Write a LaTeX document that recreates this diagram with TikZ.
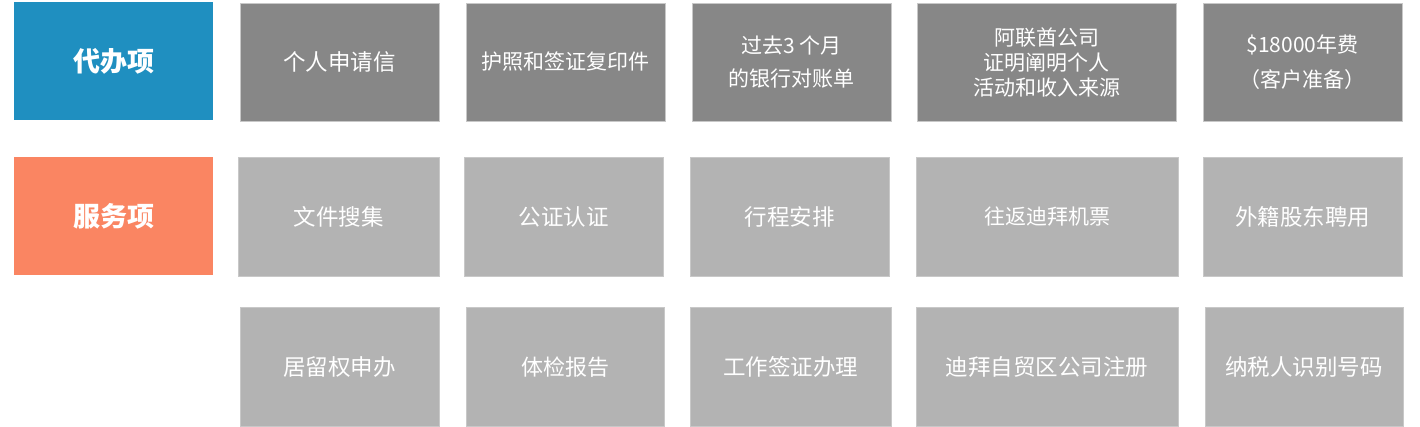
\documentclass[tikz,border=0pt]{standalone}
\usepackage{fontspec}
\setmainfont{Noto Sans CJK SC}
\definecolor{cblue}{HTML}{1F8FC0}
\definecolor{corange}{HTML}{FA8562}
\definecolor{cdark}{HTML}{878787}
\definecolor{clight}{HTML}{B3B3B3}
\definecolor{cedge}{HTML}{C8C8C8}
\tikzset{
  boxbase/.style={rectangle, inner sep=0pt, align=center, text=white, draw=cedge, line width=0.6pt},
  headbox/.style={boxbase, font=\fontsize{27}{32}\selectfont\bfseries, minimum width=199pt, minimum height=118pt, draw=none},
  darkbox/.style={boxbase, fill=cdark, font=\fontsize{22.5}{27}\selectfont, minimum height=118pt},
  lightbox/.style={boxbase, fill=clight, font=\fontsize{22.5}{27}\selectfont, minimum height=119pt},
  smallfont/.style={font=\fontsize{21}{25}\selectfont},
}
\begin{document}
\begin{tikzpicture}[x=1pt,y=-1pt]
\useasboundingbox[fill=white] (0,0) rectangle (1420,427);
% row 1
\node[headbox, fill=cblue] (h1) at (113.5,61) {代办项};
\node[darkbox, minimum width=199pt] (a1) at (339.5,62) {个人申请信};
\node[darkbox, minimum width=199pt, smallfont] (a2) at (565.5,62) {护照和签证复印件};
\node[darkbox, minimum width=199pt, font=\fontsize{21}{33}\selectfont] (a3) at (791.5,62) {过去3 个月\\的银行对账单};
\node[darkbox, minimum width=259pt, font=\fontsize{21}{25}\selectfont] (a4) at (1046.5,62) {阿联酋公司\\证明阐明个人\\活动和收入来源};
\node[darkbox, minimum width=199pt, font=\fontsize{21}{35}\selectfont] (a5) at (1302.5,62) {\$18000年费\\（客户准备）};
% row 2
\node[headbox, fill=corange] (h2) at (113.5,216.5) {服务项};
\node[lightbox, minimum width=201pt] (b1) at (338.5,217) {文件搜集};
\node[lightbox, minimum width=199pt] (b2) at (563.5,217) {公证认证};
\node[lightbox, minimum width=199pt] (b3) at (789.5,217) {行程安排};
\node[lightbox, minimum width=262pt, smallfont] (b4) at (1047,217) {往返迪拜机票};
\node[lightbox, minimum width=199pt] (b5) at (1302.5,217) {外籍股东聘用};
% row 3
\node[lightbox, minimum width=199pt] (c1) at (339.5,367) {居留权申办};
\node[lightbox, minimum width=198pt, font=\fontsize{22}{26}\selectfont] (c2) at (565,367) {体检报告};
\node[lightbox, minimum width=201pt] (c3) at (790.5,367) {工作签证办理};
\node[lightbox, minimum width=262pt] (c4) at (1047,367) {迪拜自贸区公司注册};
\node[lightbox, minimum width=198pt] (c5) at (1304,367) {纳税人识别号码};
\end{tikzpicture}
\end{document}
